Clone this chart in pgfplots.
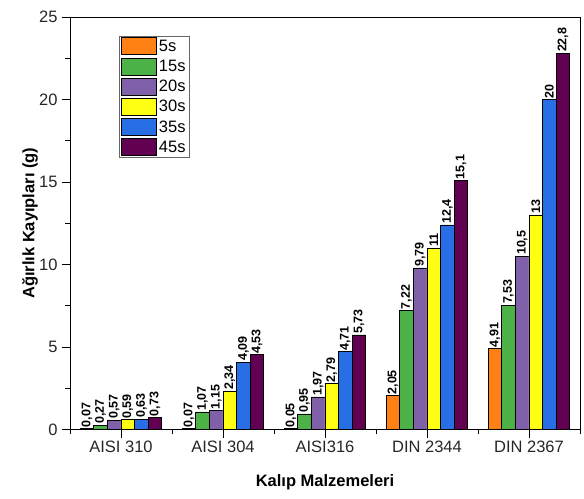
\documentclass[border=0pt]{standalone}
\usepackage{pgfplots}
\pgfplotsset{compat=1.18}
\usepackage{fontspec}
\setmainfont{Liberation Sans}

\definecolor{cOrange}{RGB}{255,128,20}
\definecolor{cGreen}{RGB}{76,178,72}
\definecolor{cPurple}{RGB}{128,96,168}
\definecolor{cYellow}{RGB}{255,255,20}
\definecolor{cBlue}{RGB}{40,110,228}
\definecolor{cPlum}{RGB}{98,0,82}

\begin{document}
\begin{tikzpicture}
% fixed page frame around the axis box
\useasboundingbox (-70pt,-69pt) rectangle (514pt,429.5pt);
\begin{axis}[
  at={(0pt,0pt)}, anchor=south west,
  scale only axis,
  width=510pt, height=412.5pt,
  ybar=0pt,
  bar width=13.6pt,
  xmin=-0.5, xmax=4.5,
  ymin=0, ymax=25,
  xtick={0,1,2,3,4},
  xticklabels={AISI 310, AISI 304, AISI316, DIN 2344, DIN 2367},
  minor xtick={-0.5,0.5,1.5,2.5,3.5,4.5},
  ytick={0,5,10,15,20,25},
  minor ytick={2.5,7.5,12.5,17.5,22.5},
  tick align=outside,
  xtick pos=bottom, ytick pos=left,
  major tick length=8pt,
  minor tick length=4.5pt,
  every tick/.style={black, line width=0.6pt},
  axis line style={black, line width=0.8pt},
  /pgf/number format/assume math mode=true,
  tick label style={font=\fontsize{16.5}{18}\selectfont, text=black!85},
  xticklabel style={yshift=0pt},
  yticklabel style={xshift=-1pt},
  xlabel={\bfseries Kalıp Malzemeleri},
  ylabel={\bfseries Ağırlık Kayıpları (g)},
  label style={font=\fontsize{16.5}{18}\selectfont},
  xlabel style={at={(axis description cs:0.5,-0.1285)}, anchor=center},
  ylabel style={at={(axis description cs:-0.0784,0.5)}, anchor=center},
  nodes near coords,
  every node near coord/.append style={
    rotate=90, anchor=west, inner sep=1pt,
    font=\bfseries\fontsize{12.5}{13}\selectfont, text=black},
  /pgf/number format/.cd, use comma, fixed, precision=2, 1000 sep={},
  /pgfplots/.cd,
  legend style={
    at={(0.096,0.955)}, anchor=north west,
    draw=black!60, line width=0.8pt, fill=white,
    font=\fontsize{16.5}{17}\selectfont,
    inner xsep=2pt, inner ysep=1.5pt, row sep=2.6pt,
    /tikz/every even column/.append style={column sep=2pt}},
  legend cell align=left,
  legend image code/.code={
    \draw[#1, draw=black, line width=0.6pt] (0pt,-8.5pt) rectangle (35pt,8.5pt);},
]
\addplot[fill=cOrange, draw=black, line width=0.6pt] coordinates {(0,0.07) (1,0.07) (2,0.05) (3,2.05) (4,4.91)};
\addplot[fill=cGreen, draw=black, line width=0.6pt] coordinates {(0,0.27) (1,1.07) (2,0.95) (3,7.22) (4,7.53)};
\addplot[fill=cPurple, draw=black, line width=0.6pt] coordinates {(0,0.57) (1,1.15) (2,1.97) (3,9.79) (4,10.5)};
\addplot[fill=cYellow, draw=black, line width=0.6pt] coordinates {(0,0.59) (1,2.34) (2,2.79) (3,11) (4,13)};
\addplot[fill=cBlue, draw=black, line width=0.6pt] coordinates {(0,0.63) (1,4.09) (2,4.71) (3,12.4) (4,20)};
\addplot[fill=cPlum, draw=black, line width=0.6pt] coordinates {(0,0.73) (1,4.53) (2,5.73) (3,15.1) (4,22.8)};
\legend{5s,15s,20s,30s,35s,45s}
\end{axis}
\end{tikzpicture}
\end{document}
